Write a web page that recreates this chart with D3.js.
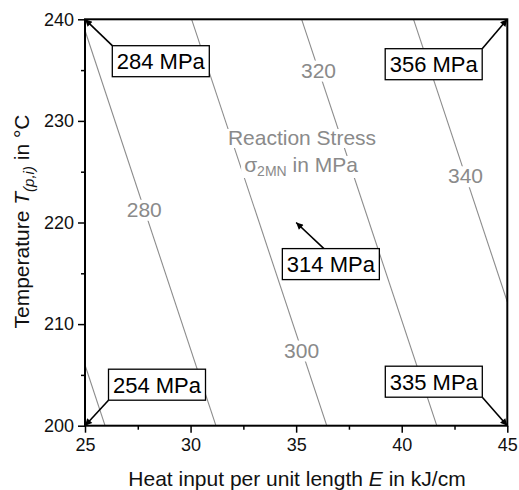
<!DOCTYPE html>
<html>
<head>
<meta charset="utf-8">
<script src="https://cdn.jsdelivr.net/npm/d3@7"></script>
<style>
  html, body { margin: 0; padding: 0; background: #fff; }
  svg { display: block; }
  text { font-family: "Liberation Sans", Arial, sans-serif; }
</style>
</head>
<body>
<svg id="chart" width="519" height="490"></svg>
<script>
// ---- data ----
const xTicks = [25, 30, 35, 40, 45];
const xMinorTicks = [27.5, 32.5, 37.5, 42.5];
const yTicks = [200, 210, 220, 230, 240];
const yMinorTicks = [205, 215, 225, 235];

const levels = [260, 280, 300, 320, 340];
const lineStartE = [25, 25, 30.05, 35.26, 40.56];
const lineStartT = [205.97, 238.9, 240, 240, 240];
const lineEndE = [25.95, 31.2, 36.45, 41.66, 45];
const lineEndT = [200, 200, 200, 200, 212.2];
const labelLevels = [280, 300, 320, 340];
const labelT = [221.3, 207.45, 235.0, 224.6];

const pointValues = [284, 356, 254, 335, 314];
const pointE = [25, 45, 25, 45, 35];
const pointT = [240, 240, 200, 200, 220];

// ---- layout ----
const W = 519, H = 490;
const x = d3.scaleLinear().domain([25, 45]).range([85, 507.3]);
const y = d3.scaleLinear().domain([200, 240]).range([425.7, 19.3]);
// box centre offsets (px) from target point and arrow start anchor inside box (relative to box centre)
const boxOffsets = [[75.8, 41.9], [-73.6, 44.9], [72, -41], [-73.5, -44], [34.7, 41.6]];
const arrowAnchors = [[-48.5, -15.5], [48.5, -15.5], [-48.5, 15.5], [48.5, 15.5], [-6.4, -15]];
const boxW = 97, boxH = 31;

const svg = d3.select("#chart");
const gray = "#8a8a8a";

svg.append("defs").append("marker")
  .attr("id", "ah").attr("viewBox", "0 0 10 10")
  .attr("refX", 10).attr("refY", 5)
  .attr("markerWidth", 10).attr("markerHeight", 7)
  .attr("markerUnits", "userSpaceOnUse")
  .attr("orient", "auto")
  .append("path").attr("d", "M0,0 L10,5 L0,10 Z").attr("fill", "#000");

// contour lines
const gl = svg.append("g");
levels.forEach((lv, i) => {
  gl.append("line")
    .attr("x1", x(lineStartE[i])).attr("y1", y(lineStartT[i]))
    .attr("x2", x(lineEndE[i])).attr("y2", y(lineEndT[i]))
    .attr("stroke", "#8c8c8c").attr("stroke-width", 1.1);
});

// contour labels
labelLevels.forEach((lv, j) => {
  const i = levels.indexOf(lv);
  const t = labelT[j];
  const f = (t - lineStartT[i]) / (lineEndT[i] - lineStartT[i]);
  const e = lineStartE[i] + f * (lineEndE[i] - lineStartE[i]);
  const g = svg.append("g");
  const txt = g.append("text")
    .attr("x", x(e)).attr("y", y(t) + 7.5)
    .attr("text-anchor", "middle")
    .attr("font-size", 21).attr("fill", gray)
    .text(lv);
  const bb = txt.node().getBBox();
  g.insert("rect", "text")
    .attr("x", bb.x - 3).attr("y", bb.y + 2)
    .attr("width", bb.width + 6).attr("height", bb.height - 2)
    .attr("fill", "#fff");
});

// legend title in plot
const lg = svg.append("g");
const t1 = lg.append("text").attr("x", 302).attr("y", 145)
  .attr("text-anchor", "middle").attr("font-size", 21).attr("fill", gray)
  .text("Reaction Stress");
const t2 = lg.append("text").attr("x", 301).attr("y", 172)
  .attr("text-anchor", "middle").attr("font-size", 21).attr("fill", gray);
t2.append("tspan").text("σ");
t2.append("tspan").attr("font-size", 14).attr("dy", 4).text("2MN");
t2.append("tspan").attr("dy", -4).text(" in MPa");
[t1, t2].forEach(t => {
  const bb = t.node().getBBox();
  lg.insert("rect", "text")
    .attr("x", bb.x - 3).attr("y", bb.y + 3)
    .attr("width", bb.width + 6).attr("height", bb.height - 4)
    .attr("fill", "#fff");
});

// axes
const gx = svg.append("g").attr("transform", `translate(0,${y(200)})`)
  .call(d3.axisBottom(x).tickValues(xTicks).tickSize(7).tickPadding(6).tickFormat(d3.format("d")));
const gxm = svg.append("g").attr("transform", `translate(0,${y(200)})`)
  .call(d3.axisBottom(x).tickValues(xMinorTicks).tickSize(4).tickFormat(""));
const gy = svg.append("g").attr("transform", `translate(${x(25)},0)`)
  .call(d3.axisLeft(y).tickValues(yTicks).tickSize(7).tickPadding(4).tickFormat(d3.format("d")));
const gym = svg.append("g").attr("transform", `translate(${x(25)},0)`)
  .call(d3.axisLeft(y).tickValues(yMinorTicks).tickSize(4).tickFormat(""));
[gx, gxm, gy, gym].forEach(g => {
  g.select(".domain").remove();
  g.selectAll(".tick line").attr("stroke", "#000").attr("stroke-width", 1.5);
  g.selectAll(".tick text").attr("font-size", 18).attr("fill", "#111")
    .attr("font-family", '"Liberation Sans", Arial, sans-serif');
});
gx.selectAll(".tick text").attr("dy", "0.71em");

// frame
svg.append("rect")
  .attr("x", x(25)).attr("y", y(240))
  .attr("width", x(45) - x(25)).attr("height", y(200) - y(240))
  .attr("fill", "none").attr("stroke", "#000").attr("stroke-width", 2);

// annotation boxes and arrows
pointValues.forEach((v, i) => {
  const px = x(pointE[i]), py = y(pointT[i]);
  const cx = px + boxOffsets[i][0], cy = py + boxOffsets[i][1];
  svg.append("line")
    .attr("x1", cx + arrowAnchors[i][0]).attr("y1", cy + arrowAnchors[i][1])
    .attr("x2", px).attr("y2", py)
    .attr("stroke", "#000").attr("stroke-width", 1.6)
    .attr("marker-end", "url(#ah)");
  svg.append("rect")
    .attr("x", cx - boxW / 2).attr("y", cy - boxH / 2)
    .attr("width", boxW).attr("height", boxH)
    .attr("fill", "#fff").attr("stroke", "#000").attr("stroke-width", 1.3);
  svg.append("text")
    .attr("x", cx).attr("y", cy + 8)
    .attr("text-anchor", "middle").attr("font-size", 22).attr("fill", "#000")
    .text(v + " MPa");
});

// axis titles
const xt = svg.append("text").attr("x", 297).attr("y", 486)
  .attr("text-anchor", "middle").attr("font-size", 21).attr("fill", "#111");
xt.append("tspan").text("Heat input per unit length ");
xt.append("tspan").attr("font-style", "italic").text("E");
xt.append("tspan").text(" in kJ/cm");

const yt = svg.append("text")
  .attr("transform", "translate(29,221.5) rotate(-90)")
  .attr("text-anchor", "middle").attr("font-size", 21).attr("fill", "#111");
yt.append("tspan").text("Temperature ");
yt.append("tspan").attr("font-style", "italic").text("T");
yt.append("tspan").attr("font-style", "italic").attr("font-size", 15).attr("dy", 5).text("(p,i)");
yt.append("tspan").attr("dy", -5).text(" in °C");
</script>
</body>
</html>
